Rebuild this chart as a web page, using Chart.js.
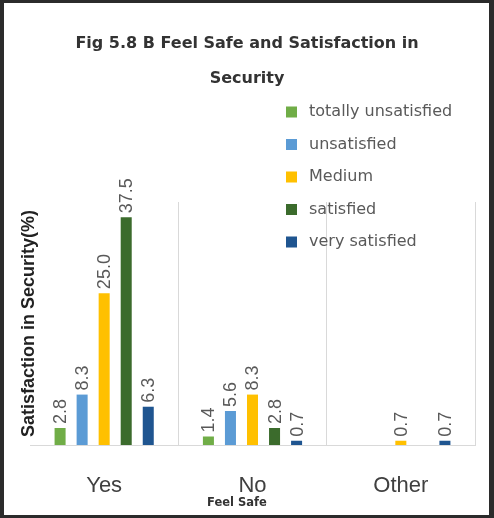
<!DOCTYPE html>
<html>
<head>
<meta charset="utf-8">
<script src="https://cdn.jsdelivr.net/npm/chart.js@4/dist/chart.umd.min.js"></script>
<style>
  html, body { margin: 0; padding: 0; background: #fff; }
  #wrap { position: relative; width: 494px; height: 518px; }
  #frame { position: absolute; left: 0; top: 0; width: 494px; height: 518px; box-sizing: border-box;
           border-style: solid; border-color: #2b2b2b; border-width: 3px 5px 3px 4px; pointer-events: none; }
</style>
</head>
<body>
<div id="wrap">
  <canvas id="chart" width="494" height="518"></canvas>
  <div id="frame"></div>
</div>
<script>
// data
const categories = ['Yes', 'No', 'Other'];
const seriesNames = ['totally unsatisfied', 'unsatisfied', 'Medium', 'satisfied', 'very satisfied'];
const totallyUnsatisfied = [2.8, 1.4, null];
const unsatisfied = [8.3, 5.6, null];
const medium = [25.0, 8.3, 0.7];
const satisfied = [37.5, 2.8, null];
const verySatisfied = [6.3, 0.7, 0.7];
const seriesColors = ['#70ad47', '#5b9bd5', '#ffc000', '#3b6b2c', '#1f5590'];

const allSeries = [totallyUnsatisfied, unsatisfied, medium, satisfied, verySatisfied];

// rotated value labels above bars + legend inside plot + x title
const extras = {
    id: 'extras',
    afterDatasetsDraw(chart) {
        const ctx = chart.ctx;
        ctx.save();
        ctx.fillStyle = '#595959';
        ctx.font = '18px "Liberation Sans"';
        chart.data.datasets.forEach((ds, i) => {
            const meta = chart.getDatasetMeta(i);
            meta.data.forEach((bar, j) => {
                const v = ds.data[j];
                if (v === null || v === undefined) return;
                ctx.save();
                ctx.translate(bar.x + 1, bar.y - 4);
                ctx.rotate(-Math.PI / 2);
                ctx.textAlign = 'left';
                ctx.textBaseline = 'middle';
                ctx.fillText(v.toFixed(1), 0, 0);
                ctx.restore();
            });
        });

        // legend
        ctx.font = '16px "DejaVu Sans"';
        ctx.textBaseline = 'middle';
        ctx.textAlign = 'left';
        seriesNames.forEach((name, i) => {
            const y = 112 + i * 32.5;
            ctx.fillStyle = seriesColors[i];
            ctx.fillRect(286, y - 5.5, 11, 11);
            ctx.fillStyle = '#595959';
            ctx.fillText(name, 309, y);
        });

        // x axis title
        ctx.font = 'bold 11.5px "DejaVu Sans"';
        ctx.fillStyle = '#333';
        ctx.textAlign = 'center';
        ctx.fillText('Feel Safe', 237, 503);
        ctx.restore();
    }
};

new Chart(document.getElementById('chart'), {
    type: 'bar',
    data: {
        labels: categories,
        datasets: allSeries.map((vals, i) => ({
            label: seriesNames[i],
            data: vals,
            backgroundColor: seriesColors[i],
            barPercentage: 0.5,
            categoryPercentage: 0.743
        }))
    },
    options: {
        responsive: false,
        animation: false,
        layout: { padding: { left: 19, right: 19, top: 0, bottom: 8 } },
        plugins: {
            legend: { display: false },
            tooltip: { enabled: false },
            title: {
                display: true,
                text: ['Fig 5.8 B Feel Safe and Satisfaction in', 'Security'],
                color: '#333',
                font: { family: 'DejaVu Sans', size: 16, weight: 'bold', lineHeight: 35 / 16 },
                padding: { top: 26, bottom: 106 }
            }
        },
        scales: {
            x: {
                afterFit: (s) => { s.height = 65; },
                grid: {
                    offset: true,
                    drawTicks: false,
                    color: (c) => (c.index === 0 ? 'rgba(0,0,0,0)' : '#d9d9d9')
                },
                border: { display: true, color: '#d9d9d9' },
                ticks: { color: '#404040', padding: 28, font: { family: 'Liberation Sans', size: 22 } }
            },
            y: {
                min: 0,
                max: 40,
                afterFit: (s) => { s.width = 11; },
                grid: { display: false },
                border: { display: false },
                ticks: { display: false },
                title: {
                    display: true,
                    text: 'Satisfaction in Security(%)',
                    color: '#222',
                    font: { family: 'Liberation Sans', size: 18, weight: 'bold' },
                    padding: { top: -1, bottom: 0 }
                }
            }
        }
    },
    plugins: [extras]
});
</script>
</body>
</html>
